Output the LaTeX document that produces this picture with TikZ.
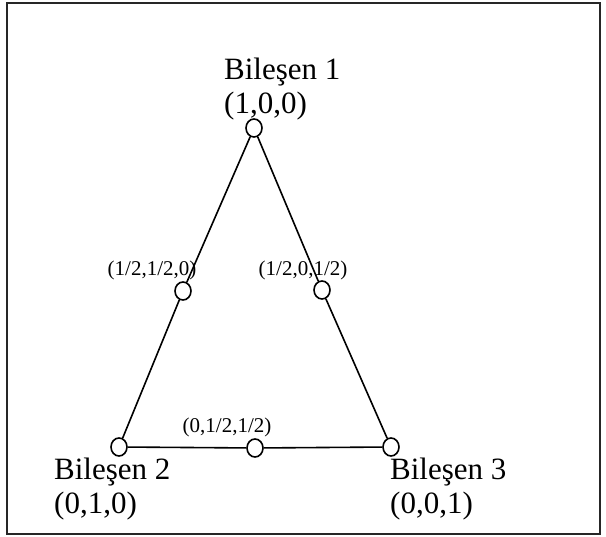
\documentclass[tikz,border=0pt]{standalone}
\usepackage{fontspec}
\setmainfont{Liberation Serif}
\usepackage{tikz}
\usetikzlibrary{shapes.geometric}

\begin{document}
\begin{tikzpicture}[x=1pt,y=-1pt,
  every node/.style={inner sep=0pt},
  vtx/.style={draw,ellipse,line width=1.6pt,fill=white,minimum width=16pt,minimum height=18pt},
  bigtxt/.style={font=\fontsize{31}{34}\selectfont,align=left},
  smalltxt/.style={font=\fontsize{21}{24}\selectfont},
  edge/.style={line width=1.6pt}]
  \useasboundingbox (0,0) rectangle (606,537);
  \draw[line width=2.2pt,black!85] (7,3) rectangle (600,534);
  % corners and midpoints
  \node[vtx] (b1) at (254,128) {};
  \node[vtx] (b2) at (119,447) {};
  \node[vtx] (b3) at (391,447) {};
  \node[vtx] (m12) at (183,291) {};
  \node[vtx] (m13) at (322,290) {};
  \node[vtx] (m23) at (255,448) {};
  \draw[edge] (b1) -- (m12) -- (b2);
  \draw[edge] (b1) -- (m13) -- (b3);
  \draw[edge] (b2) -- (m23) -- (b3);
  % labels
  \node[bigtxt,anchor=north west] (l1) at (224,58) {Bileşen 1\\(1,0,0)};
  \node[bigtxt,anchor=north west] (l2) at (54,458) {Bileşen 2\\(0,1,0)};
  \node[bigtxt,anchor=north west] (l3) at (390,458) {Bileşen 3\\(0,0,1)};
  \node[smalltxt,anchor=south] (l12) at (152,280) {(1/2,1/2,0)};
  \node[smalltxt,anchor=south] (l13) at (303,280) {(1/2,0,1/2)};
  \node[smalltxt,anchor=south] (l23) at (227,437) {(0,1/2,1/2)};
\end{tikzpicture}
\end{document}
